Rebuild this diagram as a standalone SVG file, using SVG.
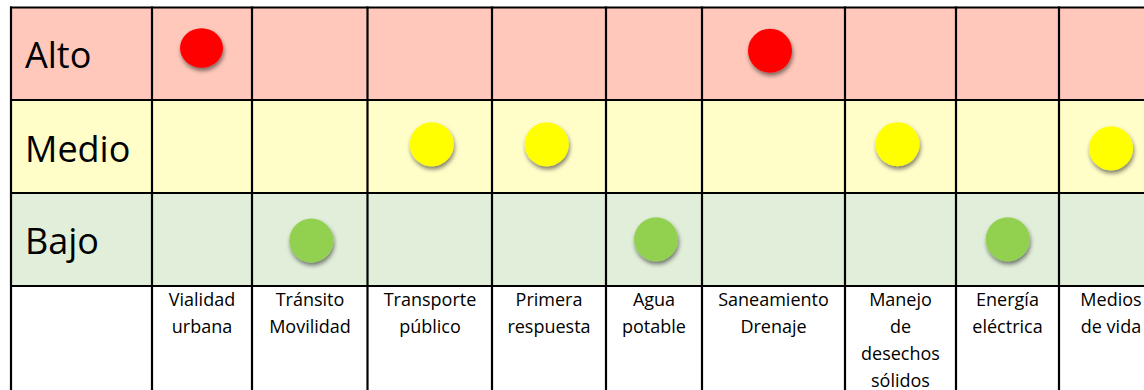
<svg xmlns="http://www.w3.org/2000/svg" width="1144" height="390" viewBox="0 0 1144 390">
  <defs>
    <filter id="sh" x="-50%" y="-50%" width="200%" height="200%">
      <feDropShadow dx="1" dy="3" stdDeviation="2.2" flood-color="#000" flood-opacity="0.5"/>
    </filter>
    <style>
      .row { font-family: "Open Sans", "Liberation Sans", sans-serif; font-size: 36px; fill: #000; }
      .col { font-family: "Open Sans", "Liberation Sans", sans-serif; font-size: 18px; fill: #000; text-anchor: middle; }
      .ln { stroke: #000; stroke-width: 2.2; fill: none; }
      .red { fill: #FF0000; filter: url(#sh); }
      .yel { fill: #FFFF00; filter: url(#sh); }
      .grn { fill: #92D050; filter: url(#sh); }
    </style>
  </defs>
  <rect x="0" y="0" width="1144" height="390" fill="#FFFFFF"/>
  <g id="bands">
    <rect x="11" y="7" width="1133" height="93" fill="#FFC8BB"/>
    <rect x="11" y="100" width="1133" height="93" fill="#FFFDC8"/>
    <rect x="11" y="193" width="1133" height="93" fill="#E1EEDA"/>
  </g>
  <g id="grid">
    <line class="ln" x1="10" y1="7.5" x2="1144" y2="7.5"/>
    <line class="ln" x1="10" y1="100" x2="1144" y2="100"/>
    <line class="ln" x1="10" y1="193" x2="1144" y2="193" stroke-width="3"/>
    <line class="ln" x1="10" y1="286" x2="1144" y2="286" stroke-width="2.6"/>
    <line class="ln" x1="11" y1="6.5" x2="11" y2="390"/>
    <line class="ln" x1="152" y1="6.5" x2="152" y2="390"/>
    <line class="ln" x1="252" y1="6.5" x2="252" y2="390"/>
    <line class="ln" x1="367.5" y1="6.5" x2="367.5" y2="390"/>
    <line class="ln" x1="492" y1="6.5" x2="492" y2="390"/>
    <line class="ln" x1="606" y1="6.5" x2="606" y2="390"/>
    <line class="ln" x1="702" y1="6.5" x2="702" y2="390"/>
    <line class="ln" x1="845" y1="6.5" x2="845" y2="390"/>
    <line class="ln" x1="956" y1="6.5" x2="956" y2="390"/>
    <line class="ln" x1="1059" y1="6.5" x2="1059" y2="390"/>
  </g>
  <g id="row-labels">
    <text class="row" x="25" y="68">Alto</text>
    <text class="row" x="25" y="162">Medio</text>
    <text class="row" x="25" y="254">Bajo</text>
  </g>
  <g id="col-labels">
    <text class="col" x="202" y="306">Vialidad</text>
    <text class="col" x="202" y="333">urbana</text>
    <text class="col" x="310" y="306">Tránsito</text>
    <text class="col" x="310" y="333">Movilidad</text>
    <text class="col" x="430" y="306">Transporte</text>
    <text class="col" x="430" y="333">público</text>
    <text class="col" x="549" y="306">Primera</text>
    <text class="col" x="549" y="333">respuesta</text>
    <text class="col" x="654" y="306">Agua</text>
    <text class="col" x="654" y="333">potable</text>
    <text class="col" x="773.5" y="306">Saneamiento</text>
    <text class="col" x="773.5" y="333">Drenaje</text>
    <text class="col" x="900.5" y="306">Manejo</text>
    <text class="col" x="900.5" y="333">de</text>
    <text class="col" x="900.5" y="360">desechos</text>
    <text class="col" x="900.5" y="387">sólidos</text>
    <text class="col" x="1007.5" y="306">Energía</text>
    <text class="col" x="1007.5" y="333">eléctrica</text>
    <text class="col" x="1111" y="306">Medios</text>
    <text class="col" x="1111" y="333">de vida</text>
  </g>
  <g id="dots">
    <ellipse class="red" cx="201.5" cy="48" rx="21.5" ry="19.8"/>
    <circle class="red" cx="770" cy="50.7" r="22"/>
    <circle class="yel" cx="431.7" cy="144.3" r="22"/>
    <circle class="yel" cx="546.7" cy="144.3" r="22"/>
    <circle class="yel" cx="897.5" cy="144.2" r="22"/>
    <circle class="yel" cx="1111" cy="148.3" r="22"/>
    <circle class="grn" cx="311.3" cy="240.5" r="22"/>
    <circle class="grn" cx="656" cy="239.3" r="22"/>
    <circle class="grn" cx="1007.7" cy="239.3" r="22"/>
  </g>
</svg>
